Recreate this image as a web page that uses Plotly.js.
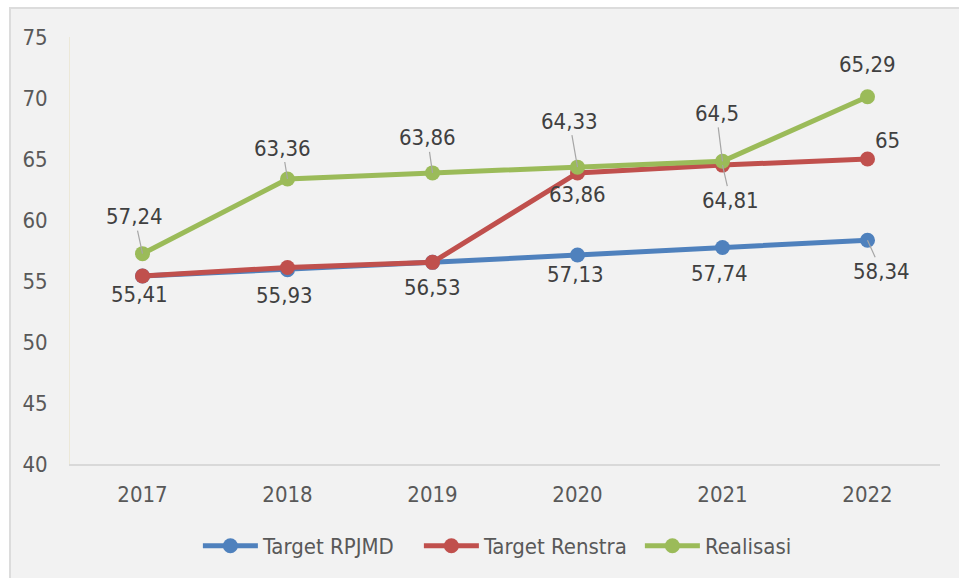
<!DOCTYPE html>
<html>
<head>
<meta charset="utf-8">
<script src="https://cdn.plot.ly/plotly-3.0.1.min.js"></script>
<style>
  html, body { margin: 0; padding: 0; background: #ffffff; width: 959px; height: 578px; overflow: hidden; }
  #bg { position: absolute; left: 9px; top: 7px; width: 960px; height: 600px; background: #f2f2f2;
        border-top: 2px solid #dcdcdc; border-left: 2px solid #dcdcdc; box-sizing: border-box; }
  #chart { position: absolute; left: 0; top: 0; width: 959px; height: 578px; }
</style>
</head>
<body>
<div id="bg"></div>
<div id="chart"></div>
<script>
// ---- data ----
var years = ['2017', '2018', '2019', '2020', '2021', '2022'];
var rpjmd = [55.41, 55.93, 56.53, 57.13, 57.74, 58.34];
var renstra = [55.41, 56.11, 56.53, 63.86, 64.5, 65];
var realisasi = [57.24, 63.36, 63.86, 64.33, 64.81, 70.1];
var rpjmdLabels = ['55,41', '55,93', '56,53', '57,13', '57,74', '58,34'];
var renstraLabels = ['', '', '', '63,86', '64,81', '65'];
var realisasiLabels = ['57,24', '63,36', '63,86', '64,33', '64,5', '65,29'];
var yTicks = [40, 45, 50, 55, 60, 65, 70, 75];

// ---- styling ----
var FONT = '"Liberation Sans Narrow", "Arial Narrow", "DejaVu Sans Condensed", sans-serif';
var FS = 22;
var colors = { rpjmd: '#4f81bd', renstra: '#c0504d', realisasi: '#9bbb59' };

function lineTrace(name, ys, color) {
  return {
    type: 'scatter', mode: 'lines+markers', name: name,
    x: years, y: ys,
    line: { color: color, width: 5 },
    marker: { color: color, size: 15 },
    hoverinfo: 'skip'
  };
}

var traces = [
  lineTrace('Target RPJMD', rpjmd, colors.rpjmd),
  lineTrace('Target Renstra', renstra, colors.renstra),
  lineTrace('Realisasi', realisasi, colors.realisasi)
];

// label placement (pixel offsets of label centre from its point, leader line flag)
var placement = {
  rpjmd: [[-3, 18, 0], [-3, 26, 0], [0, 25, 0], [-2, 19, 0], [-3, 26, 0], [14, 31, 1]],
  renstra: [null, null, null, [0, 22, 0], [8, 35, 1], [20, -19, 0]],
  realisasi: [[-8, -37, 1], [-5, -31, 1], [-5, -35, 1], [-8, -46, 1], [-6, -48, 1], [0, -32, 0]]
};

var annotations = [];
function addLabels(ys, labels, place) {
  for (var i = 0; i < years.length; i++) {
    if (!labels[i] || !place[i]) continue;
    var p = place[i];
    var a = {
      x: i, y: ys[i], xref: 'x', yref: 'y', text: labels[i],
      font: { family: FONT, size: FS, color: '#404040' }
    };
    if (p[2]) {
      a.showarrow = true; a.ax = p[0]; a.ay = p[1];
      a.arrowhead = 0; a.arrowwidth = 1.2; a.arrowcolor = '#a6a6a6'; a.standoff = 0;
    } else {
      a.showarrow = false; a.xshift = p[0]; a.yshift = -p[1];
    }
    annotations.push(a);
  }
}
addLabels(rpjmd, rpjmdLabels, placement.rpjmd);
addLabels(renstra, renstraLabels, placement.renstra);
addLabels(realisasi, realisasiLabels, placement.realisasi);

var layout = {
  width: 959, height: 578,
  margin: { l: 70, r: 19, t: 37, b: 113 },
  paper_bgcolor: 'rgba(0,0,0,0)',
  plot_bgcolor: 'rgba(0,0,0,0)',
  font: { family: FONT, size: FS, color: '#595959' },
  showlegend: true,
  legend: {
    orientation: 'h', x: 0.147, xanchor: 'left', y: -0.189, yanchor: 'middle',
    font: { family: FONT, size: FS, color: '#595959' },
    bgcolor: 'rgba(0,0,0,0)', itemwidth: 55, traceorder: 'normal',
    entrywidth: 151, entrywidthmode: 'pixels'
  },
  xaxis: {
    type: 'category', range: [-0.5, 5.5],
    showline: true, linecolor: '#d9d9d9', linewidth: 2,
    showgrid: false, zeroline: false, ticks: '',
    ticklabelstandoff: 10,
    tickfont: { family: FONT, size: FS, color: '#595959' }
  },
  yaxis: {
    range: [40, 75], tickvals: yTicks, ticktext: yTicks.map(String),
    showline: true, linecolor: '#ece8d8', linewidth: 1,
    showgrid: false, zeroline: false, ticks: '',
    ticklabelstandoff: 17,
    tickfont: { family: FONT, size: FS, color: '#595959' }
  },
  annotations: annotations
};

Plotly.newPlot('chart', traces, layout, { staticPlot: true, displayModeBar: false });
</script>
</body>
</html>
